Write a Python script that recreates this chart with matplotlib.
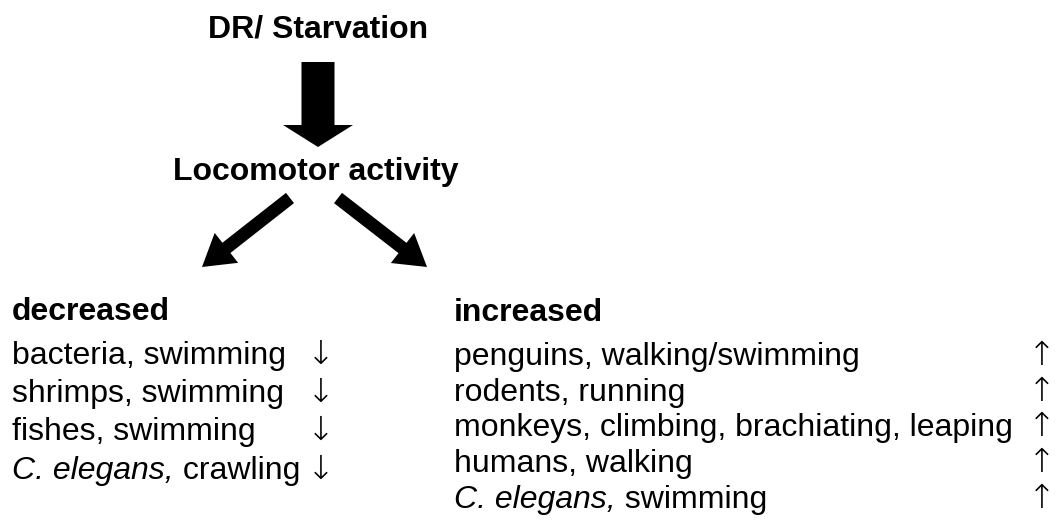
import matplotlib
matplotlib.use("Agg")
import matplotlib.pyplot as plt

# ---- content ----
title = "DR/ Starvation"
middle = "Locomotor activity"
left_heading = "decreased"
right_heading = "increased"
# (italic prefix, regular remainder)
decreased_items = [("", "bacteria, swimming"),
                   ("", "shrimps, swimming"),
                   ("", "fishes, swimming"),
                   ("C. elegans,", " crawling")]
increased_items = [("", "penguins, walking/swimming"),
                   ("", "rodents, running"),
                   ("", "monkeys, climbing, brachiating, leaping"),
                   ("", "humans, walking"),
                   ("C. elegans,", " swimming")]
down_sym = "\u2193"
up_sym = "\u2191"

W, H = 1056, 524
FAM = ["Liberation Sans", "Arial", "DejaVu Sans"]
ARROW_FAM = ["DejaVu Sans"]
FS = 23

fig = plt.figure(figsize=(W / 100, H / 100), dpi=100)
ax = fig.add_axes([0, 0, 1, 1])
ax.set_xlim(0, W)
ax.set_ylim(H, 0)
ax.axis("off")

# headings
ax.text(318, 38, title, fontsize=FS, fontweight="bold", family=FAM,
        ha="center", va="baseline")
ax.text(316, 180, middle, fontsize=FS, fontweight="bold", family=FAM,
        ha="center", va="baseline")

# arrows
ax.arrow(318, 62, 0, 85, width=33, head_width=70, head_length=22,
         length_includes_head=True, fc="black", ec="black", lw=0)
ax.arrow(290, 198, 202 - 290, 267 - 198, width=13, head_width=38,
         head_length=31, length_includes_head=True, fc="black", ec="black", lw=0)
ax.arrow(338, 198, 427 - 338, 267 - 198, width=13, head_width=38,
         head_length=31, length_includes_head=True, fc="black", ec="black", lw=0)

ax.text(12, 320, left_heading, fontsize=FS, fontweight="bold", family=FAM,
        ha="left", va="baseline")
ax.text(454, 321, right_heading, fontsize=FS, fontweight="bold", family=FAM,
        ha="left", va="baseline")


def draw_item(x, y, ital, rest):
    if ital:
        t = ax.text(x, y, ital, fontsize=FS, style="italic", family=FAM,
                    ha="left", va="bottom")
        ax.annotate(rest, xy=(1, 0), xycoords=t, fontsize=FS, family=FAM,
                    ha="left", va="bottom")
    else:
        ax.text(x, y, rest, fontsize=FS, family=FAM, ha="left", va="bottom")


def draw_arrow_glyph(x, yb, sym):
    ax.text(x, yb, sym, fontsize=24, family=ARROW_FAM, ha="center",
            va="baseline", fontweight="light")


left_base = [365, 403, 441, 480]
for (ital, rest), yb in zip(decreased_items, left_base):
    draw_item(12, yb + 6, ital, rest)
    draw_arrow_glyph(321, yb - 1, down_sym)

right_base = [366, 402, 437, 473, 509]
for (ital, rest), yb in zip(increased_items, right_base):
    draw_item(454, yb + 6, ital, rest)
    draw_arrow_glyph(1042, yb - 1, up_sym)

fig.savefig("out.png", dpi=100)
